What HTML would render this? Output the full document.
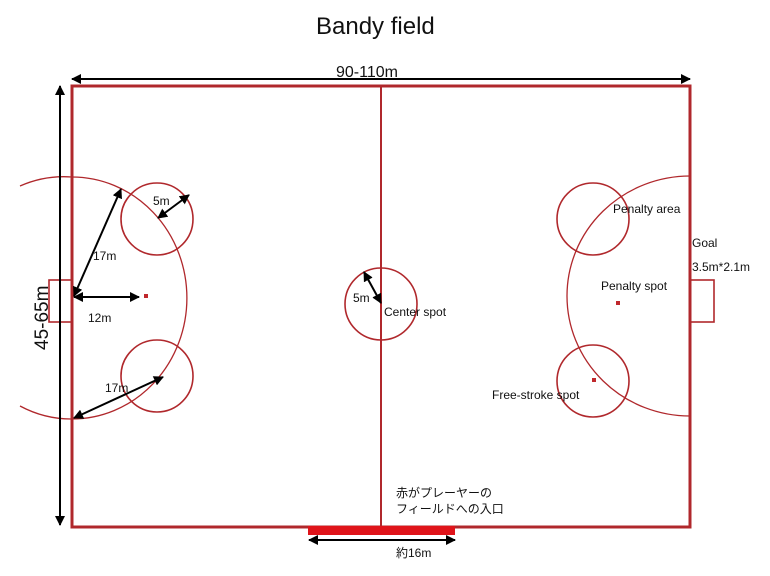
<!DOCTYPE html>
<html><head><meta charset="utf-8"><style>
html,body{margin:0;padding:0;background:#fff;}
svg{display:block;}
text{font-family:"Liberation Sans","Noto Sans CJK JP",sans-serif;fill:#111;}
</style></head><body>
<svg width="770" height="576" viewBox="0 0 770 576" xmlns="http://www.w3.org/2000/svg">
<defs>
<marker id="ah" viewBox="0 0 10 10" refX="9" refY="5" markerWidth="5" markerHeight="5" orient="auto-start-reverse"><path d="M0,0 L10,5 L0,10 z" fill="#000"/></marker>
</defs>
<text x="316" y="34" font-size="24">Bandy field</text>
<path d="M 72 177 A 113 119 0 0 1 72 419" fill="none" stroke="#b0282c" stroke-width="1.3"/>
<path d="M 20 186 A 113 119 0 0 1 72 177" fill="none" stroke="#b0282c" stroke-width="1.3"/>
<path d="M 20 406 A 113 119 0 0 0 72 419" fill="none" stroke="#b0282c" stroke-width="1.3"/>
<path d="M 690 176 A 123 120 0 0 0 690 416" fill="none" stroke="#b0282c" stroke-width="1.3"/>
<g fill="none" stroke="#b0282c" stroke-width="1.6">
<circle cx="157" cy="219" r="36"/>
<circle cx="157" cy="376" r="36"/>
<circle cx="381" cy="304" r="36"/>
<circle cx="593" cy="219" r="36"/>
<circle cx="593" cy="381" r="36"/>
<rect x="49" y="280" width="23" height="42"/>
<rect x="690" y="280" width="24" height="42"/>
</g>
<line x1="381" y1="86" x2="381" y2="527" stroke="#b0282c" stroke-width="2"/>
<rect x="72" y="86" width="618" height="441" fill="none" stroke="#b0282c" stroke-width="3"/>
<rect x="308" y="526" width="147" height="9" fill="#e0141a"/>
<rect x="144" y="294" width="4" height="4" fill="#c0282c"/>
<rect x="616" y="301" width="4" height="4" fill="#c0282c"/>
<rect x="592" y="378" width="4" height="4" fill="#c0282c"/>
<g stroke="#000" stroke-width="2" fill="none">
<line x1="72" y1="79" x2="690" y2="79" marker-start="url(#ah)" marker-end="url(#ah)"/>
<line x1="60" y1="86" x2="60" y2="525" marker-start="url(#ah)" marker-end="url(#ah)"/>
<line x1="309" y1="540" x2="455" y2="540" marker-start="url(#ah)" marker-end="url(#ah)"/>
<line x1="74" y1="296" x2="121" y2="189" marker-start="url(#ah)" marker-end="url(#ah)"/>
<line x1="74" y1="297" x2="139" y2="297" marker-start="url(#ah)" marker-end="url(#ah)"/>
<line x1="74" y1="418" x2="163" y2="377" marker-start="url(#ah)" marker-end="url(#ah)"/>
<line x1="158" y1="218" x2="189" y2="195" marker-start="url(#ah)" marker-end="url(#ah)"/>
<line x1="364" y1="272" x2="381" y2="303" marker-start="url(#ah)" marker-end="url(#ah)"/>
</g>
<text x="336" y="77" font-size="16">90-110m</text>
<text transform="translate(48,350) rotate(-90)" font-size="19">45-65m</text>
<text x="93" y="260" font-size="12">17m</text>
<text x="88" y="322" font-size="12">12m</text>
<text x="105" y="392" font-size="12">17m</text>
<text x="153" y="205" font-size="12">5m</text>
<text x="353" y="302" font-size="12">5m</text>
<text x="384" y="316" font-size="12">Center  spot</text>
<text x="613" y="213" font-size="12">Penalty area</text>
<text x="692" y="247" font-size="12">Goal</text>
<text x="692" y="271" font-size="12">3.5m*2.1m</text>
<text x="601" y="290" font-size="12">Penalty  spot</text>
<text x="492" y="399" font-size="12">Free-stroke  spot</text>
<text x="396" y="497" font-size="12">赤がプレーヤーの</text>
<text x="396" y="513" font-size="12">フィールドへの入口</text>
<text x="396" y="557" font-size="12">約16m</text>
</svg>
</body></html>
